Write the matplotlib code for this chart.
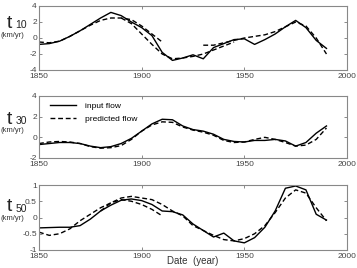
import numpy as np
import matplotlib
matplotlib.use("Agg")
import matplotlib.pyplot as plt

plt.rcParams['font.family'] = ['Liberation Sans', 'DejaVu Sans']

years = np.arange(1850, 1991, 5)

# t10 panel
t10_input = [-0.8, -0.7, -0.4, 0.2, 0.9, 1.7, 2.5, 3.2, 2.8, 2.0, 1.3, 0.3, -1.8, -2.8, -2.5,
             -2.1, -2.6, -1.2, -0.7, -0.2, -0.1, -0.8, -0.2, 0.5, 1.4, 2.2, 1.3, -0.3, -1.3]
t10_pred_a_years = np.arange(1850, 1911, 5)
t10_pred_a = [-0.5, -0.6, -0.4, 0.2, 0.9, 1.6, 2.2, 2.5, 2.5, 2.3, 1.5, 0.5, -0.5]
t10_pred_b_years = np.arange(1890, 1946, 5)
t10_pred_b = [2.5, 1.8, 0.5, -0.8, -2.0, -2.6, -2.5, -2.3, -2.0, -1.5, -1.0, -0.5]
t10_pred_c_years = np.arange(1930, 1991, 5)
t10_pred_c = [-0.9, -0.9, -0.6, -0.3, 0.0, 0.2, 0.4, 0.8, 1.4, 2.0, 1.5, 0.0, -2.0]

# t30 panel
t30_input = [-0.7, -0.6, -0.5, -0.5, -0.6, -0.85, -1.0, -0.9, -0.6, -0.1, 0.6, 1.3, 1.75, 1.7,
             1.1, 0.75, 0.6, 0.3, -0.2, -0.4, -0.45, -0.3, -0.3, -0.2, -0.35, -0.85, -0.5, 0.4, 1.1]
t30_pred = [-0.6, -0.45, -0.4, -0.45, -0.6, -0.9, -1.05, -1.0, -0.8, -0.2, 0.6, 1.2, 1.5, 1.45,
            1.0, 0.7, 0.5, 0.2, -0.3, -0.5, -0.45, -0.2, 0.0, -0.2, -0.5, -0.85, -0.75, -0.2, 0.9]

# t50 panel
t50_input = [-0.32, -0.31, -0.3, -0.3, -0.25, -0.05, 0.2, 0.38, 0.53, 0.57, 0.52, 0.4, 0.2, 0.18,
             0.08, -0.2, -0.4, -0.6, -0.48, -0.72, -0.78, -0.62, -0.3, 0.2, 0.9, 0.97, 0.85, 0.1, -0.08]
t50_pred_a_years = np.arange(1850, 1911, 5)
t50_pred_a = [-0.45, -0.55, -0.5, -0.35, -0.1, 0.1, 0.3, 0.45, 0.55, 0.5, 0.4, 0.25, 0.05]
t50_pred_b_years = np.arange(1880, 1991, 5)
t50_pred_b = [0.2, 0.45, 0.6, 0.65, 0.6, 0.55, 0.4, 0.2, 0.05, -0.25, -0.4, -0.55, -0.68, -0.72,
              -0.65, -0.5, -0.25, 0.15, 0.6, 0.85, 0.75, 0.3, -0.1]

labels = ['10', '30', '50']
yticks = [[-4, -2, 0, 2, 4], [-2, 0, 2, 4], [-1, -0.5, 0, 0.5, 1]]
yticklabels = [['-4', '-2', '0', '2', '4'], ['-2', '0', '2', '4'], ['-1', '-0.5', '0', '0.5', '1']]
xticks = [1850, 1900, 1950, 2000]

fig = plt.figure(figsize=(3.57, 2.68), dpi=100)
W, H = 357, 268
boxes = [(6, 70), (96, 158), (185, 250)]
axes = []
for top, bot in boxes:
    ax = fig.add_axes([39 / W, 1 - bot / H, 308 / W, (bot - top) / H])
    axes.append(ax)

lw = 1.0
dash = (0, (3.5, 2))
ax = axes[0]
ax.plot(years, t10_input, color='black', lw=lw)
ax.plot(t10_pred_a_years, t10_pred_a, color='black', lw=lw, linestyle=dash)
ax.plot(t10_pred_b_years, t10_pred_b, color='black', lw=lw, linestyle=dash)
ax.plot(t10_pred_c_years, t10_pred_c, color='black', lw=lw, linestyle=dash)

ax = axes[1]
ax.plot(years, t30_input, color='black', lw=lw, label='input flow')
ax.plot(years, t30_pred, color='black', lw=lw, linestyle=dash, label='predicted flow')
ax.legend(loc='upper left', frameon=False, fontsize=6, handlelength=3.2,
          bbox_to_anchor=(0.01, 1.02), labelspacing=0.6, handletextpad=1.0)

ax = axes[2]
ax.plot(years, t50_input, color='black', lw=lw)
ax.plot(t50_pred_a_years, t50_pred_a, color='black', lw=lw, linestyle=dash)
ax.plot(t50_pred_b_years, t50_pred_b, color='black', lw=lw, linestyle=dash)

for i, ax in enumerate(axes):
    ax.set_xlim(1850, 2000)
    ax.set_ylim(yticks[i][0], yticks[i][-1])
    ax.set_xticks(xticks)
    ax.set_xticklabels([str(x) for x in xticks])
    ax.set_yticks(yticks[i])
    ax.set_yticklabels(yticklabels[i])
    ax.tick_params(direction='in', length=2.5, width=0.6, labelsize=6, pad=1.5,
                   top=True, right=True, colors='#777777', labelcolor='#444444')
    ax.tick_params(axis='x', pad=2.5)
    for s in ax.spines.values():
        s.set_color('#888888')
        s.set_linewidth(0.8)

# side labels: baseline of "t", centre of "(km/yr)"
label_pos = [(28, 35.5), (123.5, 130.5), (211, 219)]
for (ty, ky), lab in zip(label_pos, labels):
    fig.text(6.5 / W, 1 - ty / H, 't', fontsize=14, ha='left', va='baseline', color='#222222')
    fig.text(15.5 / W, 1 - (ty + 0.5) / H, lab, fontsize=7.5, ha='left', va='baseline', color='#222222')
    fig.text(12 / W, 1 - ky / H, '(km/yr)', fontsize=5.5, ha='center', va='center', color='#333333')

fig.text(193 / W, 1 - 261 / H, 'Date  (year)', fontsize=7, ha='center', va='center', color='#333333')

fig.savefig('out.png', dpi=100)
